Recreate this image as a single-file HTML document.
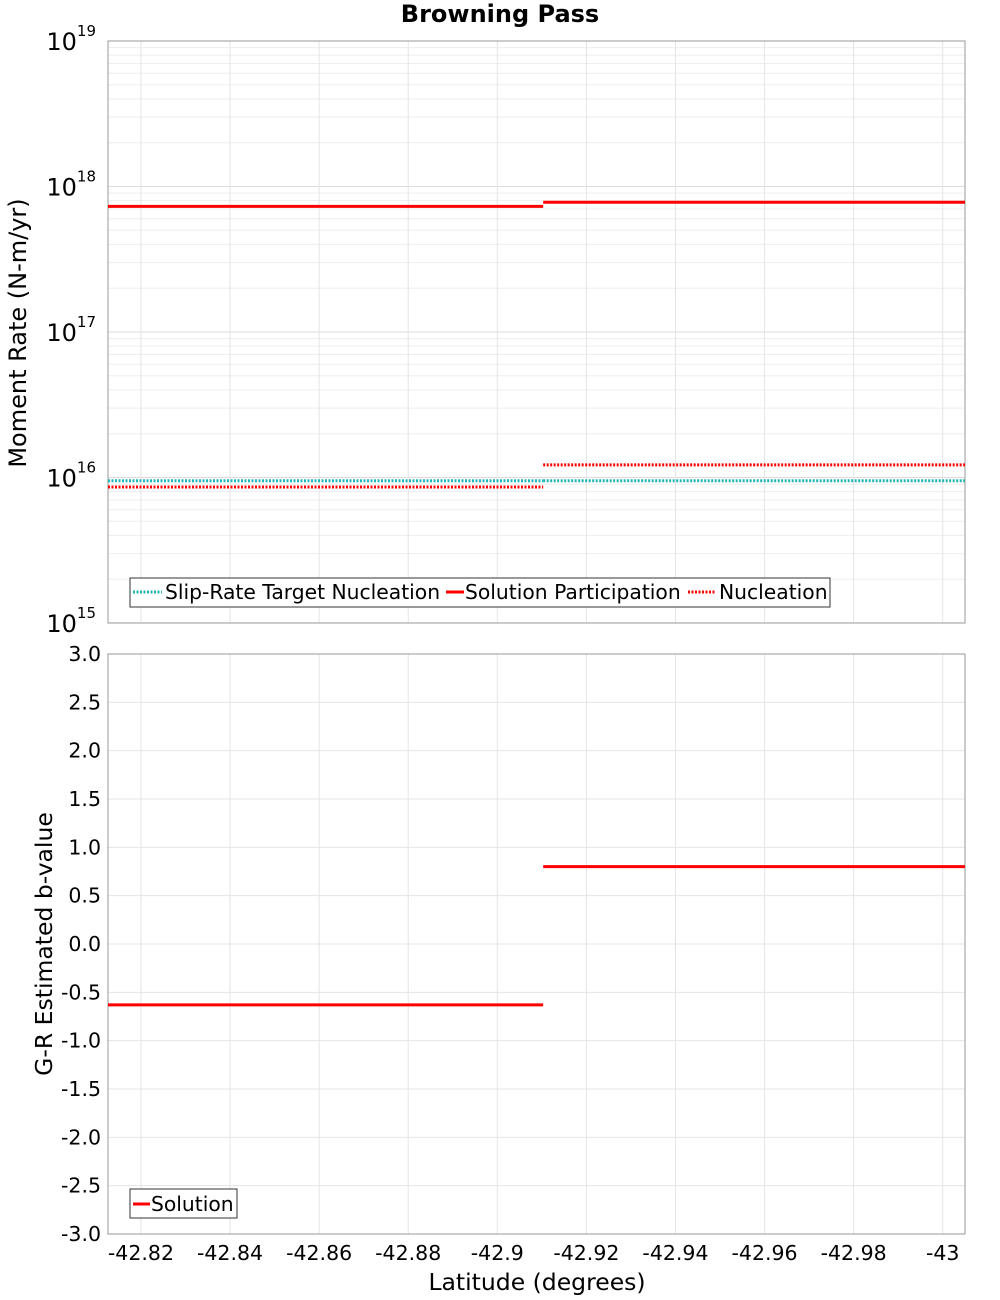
<!DOCTYPE html>
<html><head><meta charset="utf-8"><style>
html,body{margin:0;padding:0;background:#fff;}
svg{display:block;font-family:"Liberation Sans","DejaVu Sans",sans-serif;}
</style></head><body>
<svg id="chart" width="1000" height="1300" viewBox="0 0 1000 1300">
<text x="500" y="22" text-anchor="middle" font-size="24" font-weight="bold" font-family="DejaVu Sans, sans-serif">Browning Pass</text>
<g id="topPanel"></g>
<g id="botPanel"></g>
</svg>
<script>
// ---- data ----
const breakLat = [-42.8126, -42.9103, -43.005];
const participation = [7.3e17, 7.8e17];
const nucleation = [8.6e15, 1.22e16];
const targetNucleation = [9.5e15, 9.5e15];
const bValues = [-0.63, 0.8];
const xTicks = [-42.82, -42.84, -42.86, -42.88, -42.9, -42.92, -42.94, -42.96, -42.98, -43];
const xTickLabels = ["-42.82","-42.84","-42.86","-42.88","-42.9","-42.92","-42.94","-42.96","-42.98","-43"];
const logDecades = [15, 16, 17, 18, 19];
const bTicks = [3,2.5,2,1.5,1,0.5,0,-0.5,-1,-1.5,-2,-2.5,-3];
const bTickLabels = ["3.0","2.5","2.0","1.5","1.0","0.5","0.0","-0.5","-1.0","-1.5","-2.0","-2.5","-3.0"];

const NS="http://www.w3.org/2000/svg";
const FF='DejaVu Sans, sans-serif';
const L=108,R=965;
const xMin=-42.8126,xMax=-43.005;
const X=v=>L+(v-xMin)/(xMax-xMin)*(R-L);
const T1=41,B1=623, T2=654,B2=1234;
const Ylog=v=>B1-(Math.log10(v)-15)/4*(B1-T1);
const Yb=v=>B2-(v+3)/6*(B2-T2);
function el(p,tag,a,txt){const e=document.createElementNS(NS,tag);for(const k in a)e.setAttribute(k,a[k]);if(txt!==undefined)e.textContent=txt;p.appendChild(e);return e;}
const topG=document.getElementById('topPanel'), botG=document.getElementById('botPanel');

// top grid
for(let d=15;d<19;d++){for(let m=2;m<10;m++){const y=Ylog(m*Math.pow(10,d));el(topG,'line',{x1:L,x2:R,y1:y,y2:y,stroke:'#eeeeee','stroke-width':1});}}
logDecades.forEach(d=>{const y=Ylog(Math.pow(10,d));el(topG,'line',{x1:L,x2:R,y1:y,y2:y,stroke:'#dddddd'});
 const t=el(topG,'text',{x:96,y:y+9,'text-anchor':'end','font-size':24,'font-family':FF});
 
 
 el(t,'tspan',{},'10');el(t,'tspan',{dy:-14,'font-size':15},String(d));});
xTicks.forEach(v=>{const x=X(v);el(topG,'line',{x1:x,x2:x,y1:T1,y2:B1,stroke:'#e4e4e4'});el(botG,'line',{x1:x,x2:x,y1:T2,y2:B2,stroke:'#e4e4e4'});});
el(topG,'rect',{x:L,y:T1,width:R-L,height:B1-T1,fill:'none',stroke:'#999'});
el(topG,'text',{x:26,y:333,'text-anchor':'middle','font-size':24,transform:'rotate(-90 26 333)','font-family':FF,},'Moment Rate (N-m/yr)');

function steps(g,arr,Y,style,name){arr.forEach((v,i)=>{const ln=el(g,'line',Object.assign({x1:X(breakLat[i]),x2:X(breakLat[i+1]),y1:Y(v),y2:Y(v)},style));
 
 });}
steps(topG,targetNucleation,Ylog,{stroke:'#1fb5b5','stroke-width':3,'stroke-dasharray':'2,1.5'},'target-nucleation');
steps(topG,nucleation,Ylog,{stroke:'#ff0000','stroke-width':3,'stroke-dasharray':'2,1.5'},'nucleation');
steps(topG,participation,Ylog,{stroke:'#ff0000','stroke-width':3},'solution-participation');

// legend top
const lg=el(topG,'g',{});
el(lg,'rect',{x:130,y:578,width:700,height:29,fill:'#fff',stroke:'#333'});
el(lg,'line',{x1:133,x2:162,y1:592,y2:592,stroke:'#1fb5b5','stroke-width':3,'stroke-dasharray':'2,1.5'});
el(lg,'text',{x:165,y:599,'font-size':20.3,'font-family':FF},'Slip-Rate Target Nucleation');
el(lg,'line',{x1:446,x2:464,y1:592,y2:592,stroke:'#ff0000','stroke-width':3});
el(lg,'text',{x:465,y:599,'font-size':20.3,'font-family':FF},'Solution Participation');
el(lg,'line',{x1:688,x2:716,y1:592,y2:592,stroke:'#ff0000','stroke-width':3,'stroke-dasharray':'2,1.5'});
el(lg,'text',{x:719,y:599,'font-size':20.3,'font-family':FF},'Nucleation');

// bottom
bTicks.forEach((v,i)=>{const y=Yb(v);el(botG,'line',{x1:L,x2:R,y1:y,y2:y,stroke:'#e4e4e4'});
 const t=el(botG,'text',{x:101,y:y+7,'text-anchor':'end','font-size':20.5,'font-family':FF},bTickLabels[i]);
 
 });
el(botG,'rect',{x:L,y:T2,width:R-L,height:B2-T2,fill:'none',stroke:'#999'});
steps(botG,bValues,Yb,{stroke:'#ff0000','stroke-width':3},'b-value');
xTicks.forEach((v,i)=>{const t=el(botG,'text',{x:X(v),y:1260,'text-anchor':'middle','font-size':20.5,'font-family':FF},xTickLabels[i]);
 
 });
el(botG,'text',{x:537,y:1290,'text-anchor':'middle','font-size':23.5,'font-family':FF,},'Latitude (degrees)');
el(botG,'text',{x:52,y:944,'text-anchor':'middle','font-size':23.5,transform:'rotate(-90 52 944)','font-family':FF,},'G-R Estimated b-value');
const lb=el(botG,'g',{});
el(lb,'rect',{x:130,y:1189,width:107,height:29,fill:'#fff',stroke:'#333'});
el(lb,'line',{x1:133,x2:150,y1:1204,y2:1204,stroke:'#ff0000','stroke-width':3});
el(lb,'text',{x:151,y:1211,'font-size':20.3,'font-family':FF},'Solution');
</script>
</body></html>
